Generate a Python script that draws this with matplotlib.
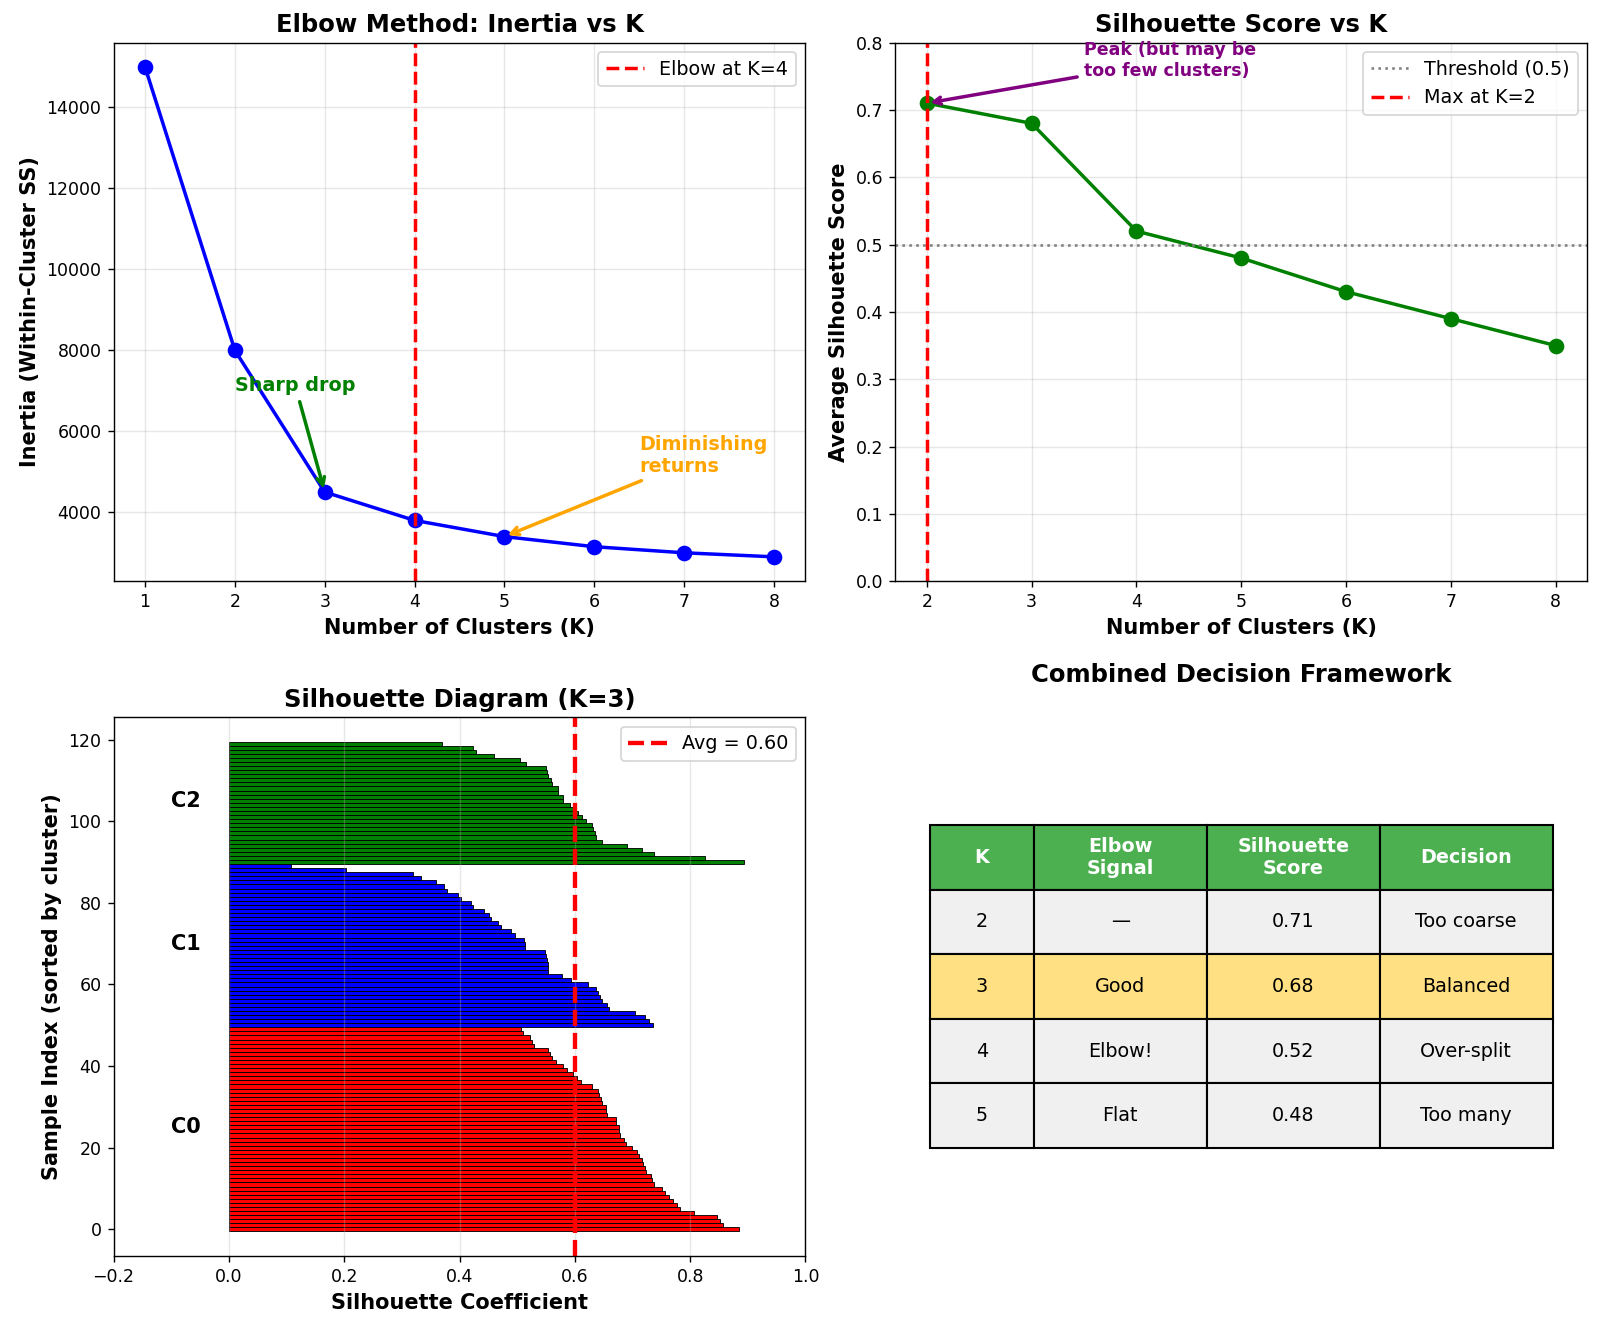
import matplotlib.pyplot as plt
import numpy as np

# elbow data
k_elbow = [1, 2, 3, 4, 5, 6, 7, 8]
inertia = [15000, 8000, 4500, 3800, 3400, 3150, 3000, 2900]

# silhouette score vs k
k_sil = [2, 3, 4, 5, 6, 7, 8]
sil_scores = [0.71, 0.68, 0.52, 0.48, 0.43, 0.39, 0.35]

# silhouette values per sample, K=3 (sorted, bottom to top)
sil_c0 = [0.885, 0.857, 0.852, 0.847, 0.806, 0.783, 0.777, 0.771, 0.764, 0.757,
          0.751, 0.738, 0.734, 0.733, 0.724, 0.722, 0.718, 0.716, 0.711, 0.707,
          0.700, 0.688, 0.685, 0.678, 0.677, 0.676, 0.672, 0.671, 0.655, 0.654,
          0.654, 0.648, 0.645, 0.642, 0.641, 0.629, 0.610, 0.604, 0.597, 0.586,
          0.579, 0.568, 0.560, 0.557, 0.554, 0.529, 0.525, 0.522, 0.510, 0.506]
sil_c1 = [0.735, 0.728, 0.722, 0.704, 0.660, 0.656, 0.648, 0.644, 0.641, 0.637,
          0.623, 0.593, 0.577, 0.554, 0.554, 0.553, 0.551, 0.550, 0.548, 0.513,
          0.513, 0.512, 0.496, 0.489, 0.472, 0.467, 0.454, 0.451, 0.443, 0.424,
          0.420, 0.402, 0.398, 0.378, 0.373, 0.359, 0.333, 0.320, 0.203, 0.107]
sil_c2 = [0.894, 0.826, 0.738, 0.717, 0.690, 0.648, 0.637, 0.635, 0.631, 0.630,
          0.620, 0.612, 0.606, 0.596, 0.591, 0.580, 0.579, 0.571, 0.570, 0.560,
          0.558, 0.554, 0.551, 0.550, 0.515, 0.505, 0.460, 0.429, 0.424, 0.369]
cluster_names = ['C0', 'C1', 'C2']
cluster_colors = ['red', 'blue', 'green']
avg_sil = 0.60

# decision table
col_labels = ['K', 'Elbow\nSignal', 'Silhouette\nScore', 'Decision']
table_rows = [['2', '\u2014', '0.71', 'Too coarse'],
              ['3', 'Good', '0.68', 'Balanced'],
              ['4', 'Elbow!', '0.52', 'Over-split'],
              ['5', 'Flat', '0.48', 'Too many']]

fig, axes = plt.subplots(2, 2, figsize=(12.8, 10.632), dpi=125)
plt.subplots_adjust(left=0.071, right=0.992, top=0.968, bottom=0.055, wspace=0.13, hspace=0.252)

# --- elbow
ax = axes[0, 0]
ax.plot(k_elbow, inertia, 'o-', color='blue', linewidth=2, markersize=8)
ax.axvline(4, color='red', linestyle='--', linewidth=2, label='Elbow at K=4')
ax.annotate('Sharp drop', xy=(3, 4500), xytext=(2, 7000), fontsize=11, fontweight='bold',
            color='green', arrowprops=dict(arrowstyle='->', color='green', lw=2))
ax.annotate('Diminishing\nreturns', xy=(5, 3400), xytext=(6.5, 5000), fontsize=11,
            fontweight='bold', color='orange',
            arrowprops=dict(arrowstyle='->', color='orange', lw=2))
ax.set_xlabel('Number of Clusters (K)', fontsize=12, fontweight='bold')
ax.set_ylabel('Inertia (Within-Cluster SS)', fontsize=12, fontweight='bold')
ax.set_title('Elbow Method: Inertia vs K', fontsize=14, fontweight='bold')
ax.set_xticks(k_elbow)
ax.legend(fontsize=11)
ax.grid(True, alpha=0.3)

# --- silhouette score
ax = axes[0, 1]
ax.plot(k_sil, sil_scores, 'o-', color='green', linewidth=2, markersize=8)
ax.axhline(0.5, color='gray', linestyle=':', linewidth=1.5, label='Threshold (0.5)')
ax.axvline(2, color='red', linestyle='--', linewidth=2, label='Max at K=2')
ax.annotate('Peak (but may be\ntoo few clusters)', xy=(2, 0.71), xytext=(3.5, 0.75),
            fontsize=10, fontweight='bold', color='purple',
            arrowprops=dict(arrowstyle='->', color='purple', lw=2))
ax.set_xlabel('Number of Clusters (K)', fontsize=12, fontweight='bold')
ax.set_ylabel('Average Silhouette Score', fontsize=12, fontweight='bold')
ax.set_title('Silhouette Score vs K', fontsize=14, fontweight='bold')
ax.set_ylim(0, 0.8)
ax.set_xticks(k_sil)
ax.legend(fontsize=11, loc='upper right')
ax.grid(True, alpha=0.3)

# --- silhouette diagram
ax = axes[1, 0]
y_lower = 0
for vals, name, col in zip([sil_c0, sil_c1, sil_c2], cluster_names, cluster_colors):
    ys = np.arange(y_lower, y_lower + len(vals))
    ax.barh(ys, vals, height=1.0, color=col, edgecolor='black', linewidth=0.5)
    ax.text(-0.1, y_lower + len(vals) / 2, name, fontsize=12, fontweight='bold', va='center')
    y_lower += len(vals)
ax.axvline(avg_sil, color='red', linestyle='--', linewidth=2.5, label=f'Avg = {avg_sil:.2f}')
ax.set_xlim(-0.2, 1.0)
ax.set_xlabel('Silhouette Coefficient', fontsize=12, fontweight='bold')
ax.set_ylabel('Sample Index (sorted by cluster)', fontsize=12, fontweight='bold')
ax.set_title('Silhouette Diagram (K=3)', fontsize=14, fontweight='bold')
ax.legend(fontsize=11, loc='upper right')
ax.grid(True, axis='x', alpha=0.3)

# --- table
ax = axes[1, 1]
ax.axis('off')
ax.set_title('Combined Decision Framework', fontsize=14, fontweight='bold', pad=20)
tbl = ax.table(cellText=table_rows, colLabels=col_labels, cellLoc='center',
               colWidths=[0.6, 1, 1, 1], bbox=[0.05, 0.2, 0.9, 0.6])
tbl.auto_set_font_size(False)
tbl.set_fontsize(11)
for (r, c), cell in tbl.get_celld().items():
    cell.set_edgecolor('black')
    cell.set_linewidth(1.2)
    if r == 0:
        cell.set_facecolor('#4CAF50')
        cell.set_text_props(color='white', fontweight='bold')
    elif r == 2:
        cell.set_facecolor('#FFE082')
    else:
        cell.set_facecolor('#f0f0f0')

plt.savefig('out.png', dpi=125)
